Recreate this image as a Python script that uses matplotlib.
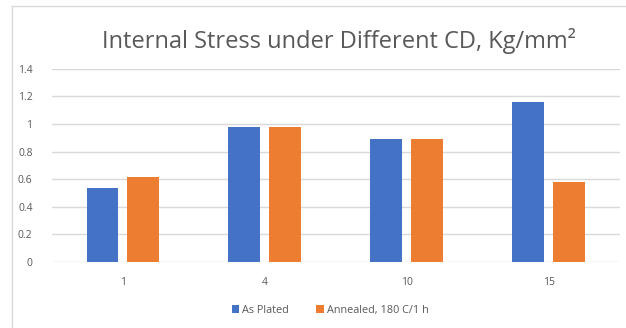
import matplotlib.pyplot as plt
import numpy as np
from matplotlib.lines import Line2D

# Internal stress per current density
cd_labels = ["1", "4", "10", "15"]
as_plated = [0.54, 0.98, 0.89, 1.16]
annealed = [0.62, 0.98, 0.89, 0.58]
y_ticks = [0, 0.2, 0.4, 0.6, 0.8, 1, 1.2, 1.4]
y_tick_labels = ["0", "0.2", "0.4", "0.6", "0.8", "1", "1.2", "1.4"]

BLUE = "#4472C4"
ORANGE = "#ED7D31"
GRAY_TEXT = "#595959"
GRID = "#D9D9D9"

plt.rcParams['font.family'] = ['Open Sans', 'DejaVu Sans']

fig = plt.figure(figsize=(6.26, 3.28), dpi=100)
ax = fig.add_axes([0.083, 0.201, 0.907, 0.589])

x = np.arange(len(cd_labels))
width = 0.225
offset = 0.144
ax.bar(x - offset, as_plated, width, color=BLUE, label="As Plated", zorder=3)
ax.bar(x + offset, annealed, width, color=ORANGE, label="Annealed, 180 C/1 h", zorder=3)

ax.set_xlim(-0.5, len(cd_labels) - 0.5)
ax.set_ylim(0, 1.4)
ax.set_yticks(y_ticks)
ax.set_yticklabels(y_tick_labels)
ax.set_xticks(x)
ax.set_xticklabels(cd_labels)
ax.tick_params(axis='both', length=0, colors=GRAY_TEXT, labelsize=7.5)
ax.tick_params(axis='y', pad=14)
ax.tick_params(axis='x', pad=11)
ax.grid(axis='y', color=GRID, linewidth=1, zorder=0)
for s in ax.spines.values():
    s.set_visible(False)

fig.text(0.541, 0.875, "Internal Stress under Different CD, Kg/mm²",
         ha='center', va='center', fontsize=17, color=GRAY_TEXT)

ax.legend(loc='upper center', bbox_to_anchor=(0.49, -0.17), ncol=2, frameon=False,
          fontsize=7.8, labelcolor=GRAY_TEXT, handlelength=0.7, handleheight=0.7,
          handletextpad=0.3, columnspacing=2.5)

# chart frame edges
fig.add_artist(Line2D([12 / 626, 12 / 626], [0, 1 - 6 / 328], transform=fig.transFigure,
                      color=GRID, linewidth=1))
fig.add_artist(Line2D([12 / 626, 1], [1 - 6 / 328, 1 - 6 / 328], transform=fig.transFigure,
                      color=GRID, linewidth=1))

fig.savefig("out.png", dpi=100)
